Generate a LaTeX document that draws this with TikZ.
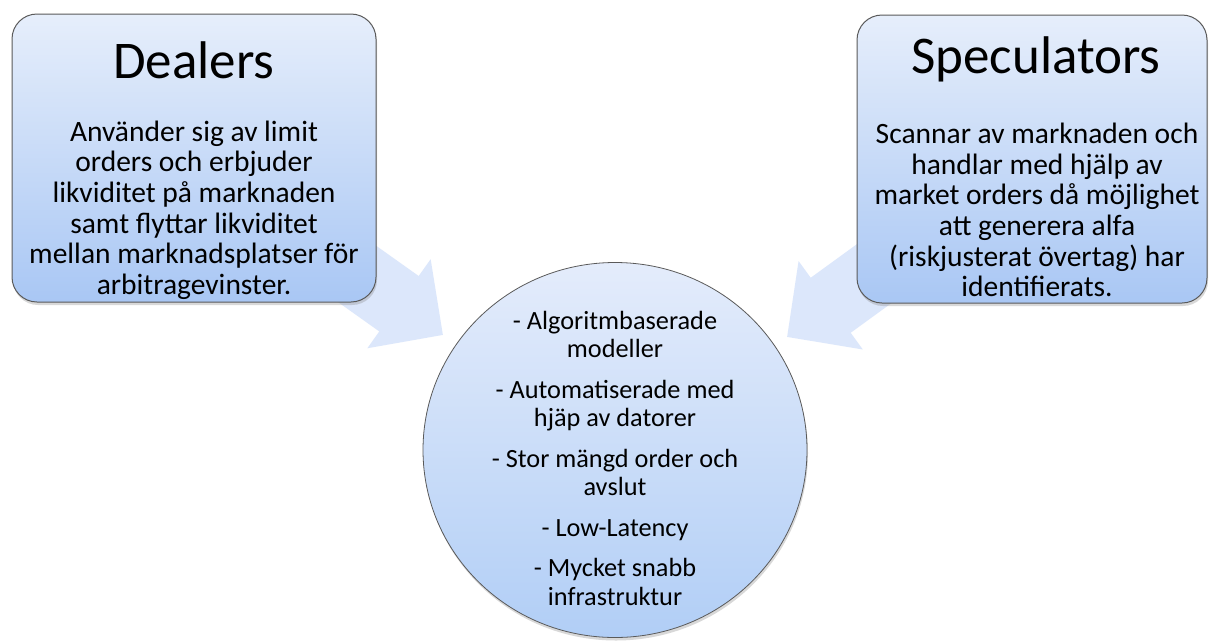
\documentclass[tikz,border=0pt]{standalone}
\usepackage{fontspec}
\setmainfont{Carlito}
\usetikzlibrary{arrows.meta,shapes.geometric,shadows,backgrounds}

\definecolor{boxtop}{HTML}{E6EEFB}
\definecolor{boxbottom}{HTML}{A9C7F4}
\definecolor{hubtop}{HTML}{E4ECFB}
\definecolor{hubbottom}{HTML}{B1CEF6}
\definecolor{edgegray}{HTML}{5A5A5A}
\definecolor{arrowblue}{HTML}{DCE7FB}

\begin{document}
\begin{tikzpicture}[
    x=1pt,
    y=-1pt,
    actor/.style={
        draw=edgegray,
        line width=1pt,
        rounded corners=25pt,
        top color=boxtop,
        bottom color=boxbottom,
        minimum height=288pt,
        drop shadow={opacity=0.3, shadow xshift=1pt, shadow yshift=-3pt}
    },
    hub/.style={
        ellipse,
        draw=edgegray,
        line width=0.8pt,
        top color=hubtop,
        bottom color=hubbottom,
        minimum width=384pt,
        minimum height=375pt,
        drop shadow={opacity=0.3, shadow xshift=1pt, shadow yshift=-3pt}
    },
    boxtitle/.style={
        font=\fontsize{53}{60}\selectfont,
        anchor=base
    },
    boxtext/.style={
        font=\fontsize{29.5}{30.6}\selectfont,
        align=center
    },
    hubtext/.style={
        font=\fontsize{26.3}{28.5}\selectfont,
        align=center
    },
    flow/.style={
        line width=68pt,
        arrowblue,
        -{Triangle[length=54pt, width=106pt]}
    }
]
    \useasboundingbox (0,0) rectangle (1210,641);

    % --- Dealers ---
    \node[actor, minimum width=364pt] (dealers) at (194,158) {};
    \node[boxtitle] (dealerstitle) at (194,78) {Dealers};
    \node[boxtext] (dealerstext) at (194,210) {Använder sig av limit\\
        orders och erbjuder\\
        likviditet på marknaden\\
        samt flyttar likviditet\\
        mellan marknadsplatser för\\
        arbitragevinster.};

    % --- Speculators ---
    \node[actor, minimum width=350pt] (speculators) at (1032,159) {};
    \node[boxtitle] (speculatorstitle) at (1036,73) {Speculators};
    \node[boxtext] (speculatorstext) at (1037,210) {Scannar av marknaden och\\
        handlar med hjälp av\\
        market orders då möjlighet\\
        att generera alfa\\
        (riskjusterat övertag) har\\
        identifierats.};

    % --- HFT ---
    \node[hub] (hft) at (615,450) {};
    \node[hubtext] (hfttext) at (615,458) {- Algoritmbaserade\\
        modeller\\[12pt]
        - Automatiserade med\\
        hjäp av datorer\\[12pt]
        - Stor mängd order och\\
        avslut\\[12pt]
        - Low-Latency\\[12pt]
        - Mycket snabb\\
        infrastruktur};

    % block arrows behind the boxes
    \coordinate (tipL) at (443,335);
    \coordinate (tipR) at (787,337);
    \begin{pgfonlayer}{background}
        \fill[white] (0,0) rectangle (1210,641);
        \draw[flow] (dealers.center) -- (tipL);
        \draw[flow] (speculators.center) -- (tipR);
    \end{pgfonlayer}
\end{tikzpicture}
\end{document}
